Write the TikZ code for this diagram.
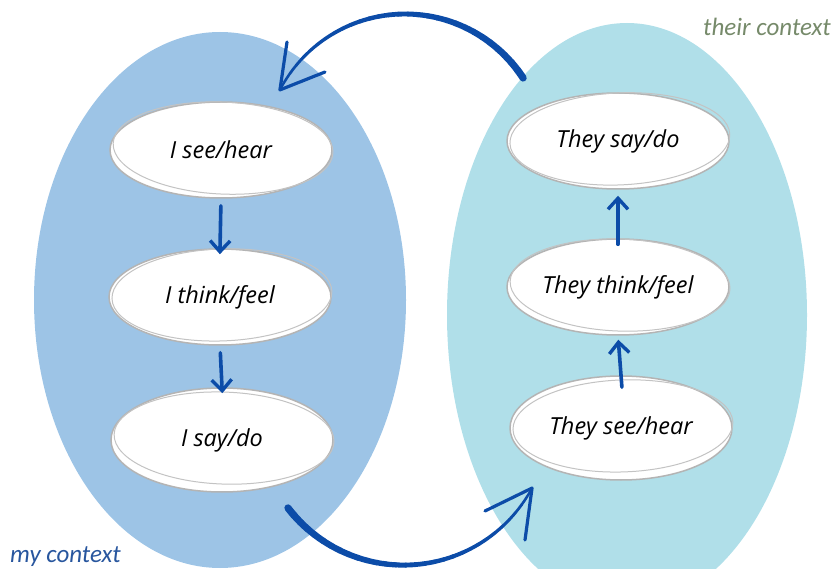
\documentclass[tikz,border=0pt]{standalone}
\usepackage{fontspec}
\setmainfont{Open Sans}
\newfontfamily\ctxfont{Carlito}
\usetikzlibrary{shapes.geometric,arrows.meta,calc}
\definecolor{leftblob}{RGB}{157,196,230}
\definecolor{rightblob}{RGB}{176,223,233}
\definecolor{arrowblue}{RGB}{12,76,168}
\definecolor{theirgreen}{RGB}{118,138,106}
\definecolor{myblue}{RGB}{40,86,158}
\definecolor{sketchgray}{RGB}{180,180,180}
\begin{document}
\begin{tikzpicture}[x=1pt,y=1pt,
  stateel/.style={ellipse, fill=white, draw=sketchgray, line width=1.5pt,
    minimum width=222pt, minimum height=96pt, inner sep=0pt,
    font=\itshape\fontsize{23.5}{28}\selectfont},
  flow/.style={draw=arrowblue, line width=3.6pt, line cap=round,
    -{Straight Barb[length=11pt,width=20pt,line width=3.4pt]}},
  ctx/.style={font=\ctxfont\itshape\fontsize{25}{30}\selectfont, inner sep=0pt},
  bigarrow/.style={arrowblue, line cap=round},
  barb/.style={arrowblue, line width=3.2pt, line cap=round, line join=round}
]
\useasboundingbox (0,0) rectangle (833,-569);
\clip (0,0) rectangle (833,-569);

% context blobs
\fill[leftblob] (220,-300) ellipse [x radius=186, y radius=268];
\fill[rightblob] (627,-315) ellipse [x radius=180, y radius=292];

% state nodes
\node[stateel] (see) at (221,-150) {I see/hear};
\node[stateel] (think) at (220,-297) {I think/feel};
\node[stateel, minimum height=104pt] (say) at (222,-440) {I say/do};
\node[stateel] (tsay) at (618,-141) {They say/do};
\node[stateel] (tthink) at (618,-287) {They think/feel};
\node[stateel, minimum height=104pt] (tsee) at (621,-428) {They see/hear};

% sketchy second strokes
\foreach \n/\r in {see/-2.5, think/2, say/-2, tsay/2.5, tthink/-2, tsee/2}{
  \draw[sketchgray!80, line width=1pt, rotate around={\r:(\n.center)}]
    ([shift={(2,2)}]\n.center) ellipse [x radius=110, y radius=46];
}

% small flow arrows
\draw[flow, shorten <=7pt, shorten >=-6pt] (see.south) -- (think.north);
\draw[flow, shorten <=7pt, shorten >=-6pt] (think.south) -- (say.north);
\draw[flow, shorten <=-12pt, shorten >=4pt] (tsee.north) -- (tthink.south);
\draw[flow, shorten <=-6pt, shorten >=6pt] (tthink.north) -- (tsay.south);

% big top arrow (their context -> my context)
\coordinate (ctop) at (405,-155);
\foreach \i [evaluate=\i as \a using 33.1+\i*3.98,
             evaluate=\i as \b using 33.1+(\i+1)*3.98,
             evaluate=\i as \w using 7.2-\i*0.165] in {0,...,29}{
  \draw[bigarrow, line width=\w pt] ($(ctop)+(\a:141)$) arc[start angle=\a, end angle=\b, radius=141];
}
\coordinate (ttip) at ($(ctop)+(152.5:141)$);
\coordinate (tb1) at (287,-42);
\coordinate (tb2) at (325,-72);
\draw[barb] (tb1) -- (ttip) -- (tb2);

% big bottom arrow (my context -> their context)
\coordinate (cbot) at (403.6,-419.5);
\foreach \i [evaluate=\i as \a using 217.4+\i*3.817,
             evaluate=\i as \b using 217.4+(\i+1)*3.817,
             evaluate=\i as \w using 7.2-\i*0.165] in {0,...,29}{
  \draw[bigarrow, line width=\w pt] ($(cbot)+(\a:145.6)$) arc[start angle=\a, end angle=\b, radius=145.6];
}
\coordinate (btip) at ($(cbot)+(331.9:145.6)$);
\coordinate (bb1) at (485,-511);
\coordinate (bb2) at (525,-540);
\draw[barb] (bb1) -- (btip) -- (bb2);

% context labels
\node[ctx, text=theirgreen, anchor=east] (their) at (831,-27) {their context};
\node[ctx, text=myblue, anchor=west] (my) at (10,-557) {my context};
\end{tikzpicture}
\end{document}
